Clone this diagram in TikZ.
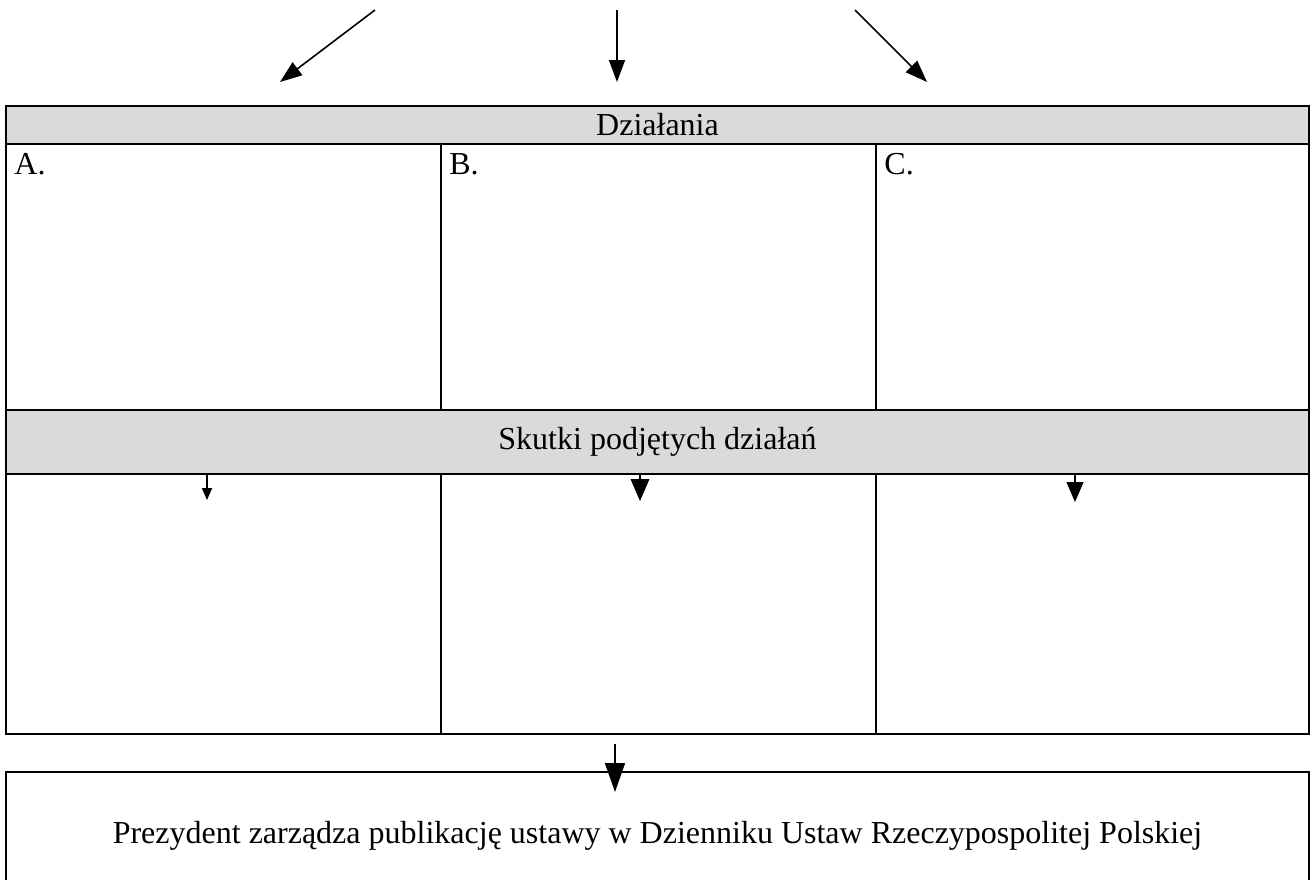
\documentclass[tikz,border=0pt]{standalone}
\usepackage{fontspec}
\setmainfont{Liberation Serif}
\usetikzlibrary{positioning}
\usetikzlibrary{arrows.meta}
\usepackage{xcolor}
\definecolor{headgray}{RGB}{217,218,220}

\begin{document}
\begin{tikzpicture}[x=0.5pt, y=-0.5pt, font=\fontsize{16}{19}\selectfont]
    \tikzset{
      head/.style={draw, line width=1.2pt, fill=headgray, inner sep=0pt, outer sep=0pt, minimum width=651.5pt, anchor=north west},
      cell/.style={draw, line width=1.2pt, inner sep=0pt, outer sep=0pt, minimum width=217.5pt, anchor=north west},
      tag/.style={inner sep=0pt, anchor=north west},
      arr/.style={line width=0.8pt, -{Triangle[length=11pt, width=8pt]}},
      smallarr/.style={line width=0.6pt, -{Triangle[length=#1, width=0.85*#1]}},
    }
    \useasboundingbox (0, 0) rectangle (1313, 879);

    % first row
    \node[head, minimum height=19pt] (dzialania) at (6, 106) {Działania};
    \node[cell, minimum height=133pt] (cellA) at (dzialania.south west) {};
    \node[cell, minimum height=133pt] (cellB) at (cellA.north east) {};
    \node[cell, minimum height=133pt, minimum width=216.5pt] (cellC) at (cellB.north east) {};
    \node[tag, below right=4.5pt and 4pt of cellA.north west] (labA) {A.};
    \node[tag, below right=4.5pt and 4pt of cellB.north west] (labB) {B.};
    \node[tag, below right=4.5pt and 4pt of cellC.north west] (labC) {C.};

    % second row
    \node[head, minimum height=32pt] (skutki) at (cellA.south west) {Skutki podjętych działań};
    \node[cell, minimum height=130pt] (cellD) at (skutki.south west) {};
    \node[cell, minimum height=130pt] (cellE) at (cellD.north east) {};
    \node[cell, minimum height=130pt, minimum width=216.5pt] (cellF) at (cellE.north east) {};

    % bottom box
    \node[cell, minimum width=651.5pt, minimum height=64pt] (prezydent) at (6, 772) {};
    \node (publikacja) at (prezydent.center) {Prezydent zarządza publikację ustawy w Dzienniku Ustaw Rzeczypospolitej Polskiej};

    % arrows
    \coordinate (topA) at (375, 10);
    \coordinate (endA) at (280, 82);
    \coordinate (topB) at (617, 10);
    \coordinate (endB) at (617, 82);
    \coordinate (topC) at (855, 10);
    \coordinate (endC) at (927, 82);
    \draw[arr] (topA) -- (endA);
    \draw[arr] (topB) -- (endB);
    \draw[arr] (topC) -- (endC);

    \coordinate (tipD) at (207, 500);
    \coordinate (tipE) at (640, 501);
    \coordinate (tipF) at (1075, 502);
    \draw[smallarr=6pt] (207, 474) -- (tipD);
    \draw[smallarr=11pt] (640, 474) -- (tipE);
    \draw[smallarr=10pt] (1075, 474) -- (tipF);

    \coordinate (downG) at (615, 744);
    \coordinate (tipG) at (615, 792);
    \draw[arr, -{Triangle[length=14.5pt, width=10pt]}] (downG) -- (tipG);
  \end{tikzpicture}
\end{document}
